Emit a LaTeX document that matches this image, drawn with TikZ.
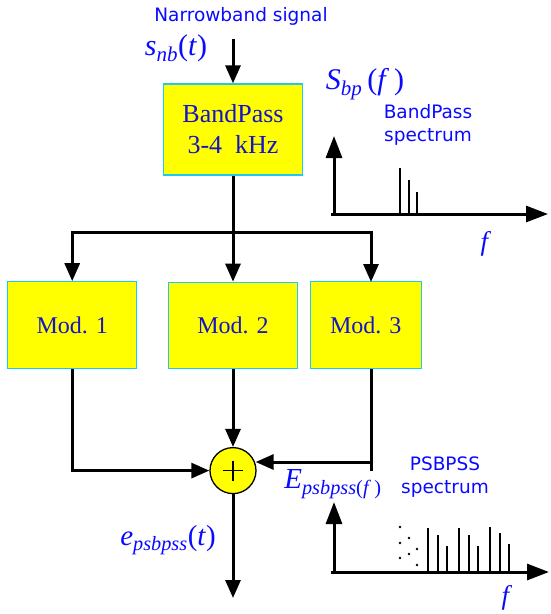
\documentclass[tikz,border=0pt]{standalone}
\usepackage{fontspec}
\setmainfont{Liberation Serif}
\newfontfamily\verdana{DejaVu Sans}
\usetikzlibrary{positioning,arrows.meta,calc}
\definecolor{boxyellow}{HTML}{FFFF00}
\definecolor{boxcyan}{HTML}{1EC8F0}
\definecolor{lblue}{HTML}{0A0AFF}
\definecolor{dblue}{HTML}{1414C8}
\newcommand{\sigsub}[2]{\textit{#1}\textsubscript{\textit{#2}}}
\begin{document}
\begin{tikzpicture}[x=1pt,y=-1pt]
		\tikzstyle{blockbox} = [rectangle, draw=boxcyan, line width=1.3pt, fill=boxyellow, text=dblue, font=\fontsize{24}{29}\selectfont, align=center, inner sep=0pt];
		\tikzstyle{sumnode} = [circle, draw=black, line width=1.3pt, fill=boxyellow, minimum size=46pt, inner sep=0pt];
		\tikzstyle{sig} = [line width=3pt, -{Triangle[length=18pt,width=15pt]}];
		\tikzstyle{axis} = [line width=3pt, -{Triangle[length=22pt,width=16pt]}];
		\tikzstyle{wire} = [line width=3pt];
		\tikzstyle{caption} = [text=lblue, font=\verdana\fontsize{18.5}{23}\selectfont, align=center];
		\tikzstyle{mlabel} = [text=lblue, font=\fontsize{30}{34}\selectfont, inner sep=0pt];
		\tikzstyle{bar} = [line width=2.8pt];
		\useasboundingbox (0,0) rectangle (550,614);
		% blocks
		\node (bp) [blockbox, minimum width=139pt, minimum height=91pt, font=\fontsize{26}{31}\selectfont] at (233,129.5) {BandPass\\3-4\ \ kHz};
		\node (mod2) [blockbox, minimum width=129pt, minimum height=86pt, below=106pt of bp] {Mod. 2};
		\node (mod1) [blockbox, minimum width=129pt, minimum height=87pt, left=30.5pt of mod2] {Mod. 1};
		\node (mod3) [blockbox, minimum width=111pt, minimum height=87pt, right=11.5pt of mod2] {Mod. 3};
		\node (sum) [sumnode, below=78pt of mod2] {};
		\draw[line width=1.3pt] ($(sum)+(-10,0)$) -- ($(sum)+(10,0)$) ($(sum)+(0,-10)$) -- ($(sum)+(0,10)$);
		% connectors
		\coordinate (in) at ($(bp.north)+(0,-44)$);
		\coordinate (split) at (233,232);
		\coordinate (m3in) at (371,282);
		\coordinate (m3out) at (371,369);
		\coordinate (m3turn) at (371,462);
		\coordinate (m3end) at (371,471);
		\coordinate (out) at (233,598);
		\draw[sig] (in) -- (bp.north);
		\draw[wire] (bp.south) -- (split);
		\draw[sig] (split) -| (mod1.north);
		\draw[sig] (split) -- (mod2.north);
		\draw[sig] (split) -| (m3in);
		\draw[sig] (mod1.south) |- (sum.west);
		\draw[sig] (mod2.south) -- (sum.north);
		\draw[wire] (m3out) -- (m3end);
		\draw[sig] (m3turn) -- ($(m3turn -| sum.east)+(-1,0)$);
		\draw[sig] (sum.south) -- (out);
		% labels
		\node (nbsig) [caption] at (241,16) {Narrowband signal};
		\node (snb) [mlabel] at (176,48) {\sigsub{s}{nb}(\textit{t})};
		\node (epss) [mlabel, font=\fontsize{29}{32}\selectfont] at (168,540) {\sigsub{e}{psbpss}(\textit{t})};
		\node (Epss) [mlabel, font=\fontsize{29}{32}\selectfont] at (333,484) {\textit{E}\textsubscript{\textit{psbpss}(\textit{f}\,)}};
		% bandpass spectrum
		\coordinate (o1) at (334,214);
		\draw[axis] (o1) -- ($(o1)+(0,-78)$);
		\draw[axis] ($(o1)+(-3,0)$) -- (548,214);
		\foreach \x/\h in {400/46, 409/34, 417/22}
			\draw[bar] (\x,214) -- (\x,214-\h);
		\node (Sbp) [mlabel, font=\fontsize{30}{33}\selectfont] at (365,84) {\sigsub{S}{bp}\,(\textit{f}\,)};
		\node (bpspec) [caption] at (428,125) {BandPass\\spectrum};
		\node (f1) [mlabel, font=\fontsize{27}{28}\selectfont] at (486,244) {\textit{f}};
		% psbpss spectrum
		\coordinate (o2) at (334,572);
		\draw[axis] (o2) -- ($(o2)+(0,-70)$);
		\draw[axis] ($(o2)+(-3,0)$) -- (549,572);
		\foreach \x/\h in {428/44, 438/37, 447/26, 459/44, 469/37, 478/26, 490/45, 500/39, 509/28}
			\draw[bar] (\x,572) -- (\x,572-\h);
		\foreach \x/\y in {400/527, 400/543, 400/558, 409/538, 409/554, 417/549, 417/565}
			\fill (\x,\y) circle (1.3pt);
		\node (pspec) [caption] at (445,477) {PSBPSS\\spectrum};
		\node (f2) [mlabel, font=\fontsize{27}{28}\selectfont] at (507,598) {\textit{f}};
\end{tikzpicture}
\end{document}
